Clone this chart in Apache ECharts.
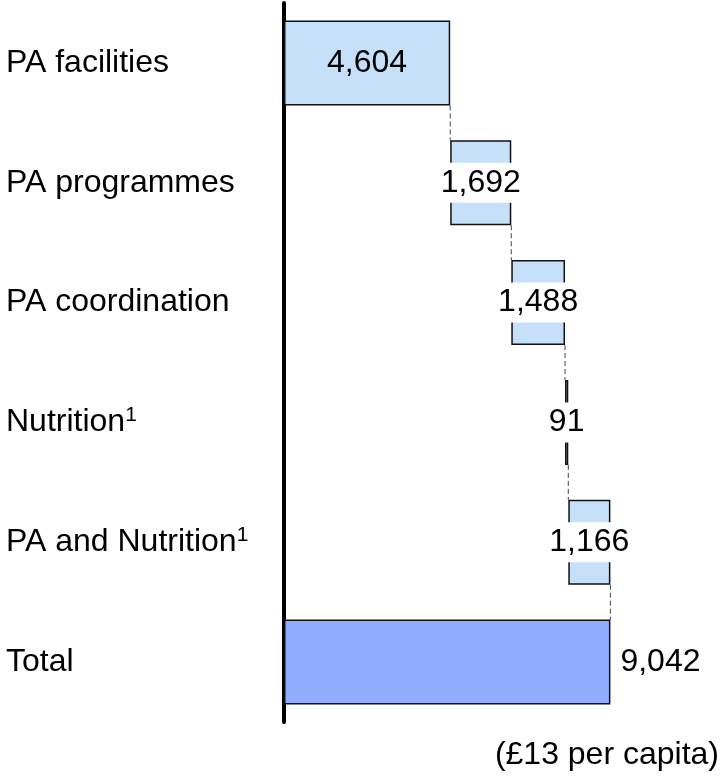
<!DOCTYPE html>
<html>
<head>
<meta charset="utf-8">
<script src="https://cdn.jsdelivr.net/npm/echarts@6/dist/echarts.min.js"></script>
<style>
html,body{margin:0;padding:0;background:#fff;}
#c{width:723px;height:776px;}
</style>
</head>
<body>
<div id="c"></div>
<script>
const categories = ['PA facilities', 'PA programmes', 'PA coordination', 'Nutrition', 'PA and Nutrition', 'Total'];
const superscripts = ['', '', '', '1', '1', ''];
const values = [4604, 1692, 1488, 91, 1166, 9042];
const footnote = '(£13 per capita)';

const FONT = 'Liberation Sans, Arial, sans-serif';
const BAR_H = 85;
const last = values.length - 1;

// waterfall offsets derived from the values
const base = [];
let run = 0;
values.forEach((v, i) => {
  if (i === last) { base.push(0); } else { base.push(run); run += v; }
});
const connectors = [];
for (let i = 0; i < last; i++) connectors.push([base[i] + values[i], i]);

const fmt = v => v.toLocaleString('en-GB');

const valueData = values.map((v, i) => {
  const item = {
    value: v,
    itemStyle: { color: i === last ? '#91AEFE' : '#C6E0FA' }
  };
  if (i === 0) {
    item.label = { backgroundColor: 'transparent' };
  } else if (i === last) {
    item.label = { position: 'right', distance: 10, backgroundColor: 'transparent' };
  }
  return item;
});

const chart = echarts.init(document.getElementById('c'), null, { renderer: 'canvas' });
chart.setOption({
  animation: false,
  grid: { left: 284, top: 3, bottom: 54, right: 78 },
  xAxis: { type: 'value', min: 0, max: 10000, show: false, splitLine: { show: false } },
  yAxis: {
    type: 'category',
    inverse: true,
    data: categories,
    axisLine: { show: true, lineStyle: { color: '#000', width: 4, cap: 'round' } },
    axisTick: { show: false },
    axisLabel: {
      align: 'left',
      margin: 278,
      color: '#000',
      fontFamily: FONT,
      fontSize: 32,
      formatter: (val, idx) => superscripts[idx] ? val + '{sup|' + superscripts[idx] + '}' : val,
      rich: {
        sup: { fontSize: 21, fontFamily: FONT, color: '#000', verticalAlign: 'top', padding: [0, 0, 14, 0] }
      }
    }
  },
  series: [
    {
      type: 'custom',
      data: connectors,
      z: 1,
      silent: true,
      renderItem: (params, api) => {
        const x = api.value(0), i = api.value(1);
        const p1 = api.coord([x, i]);
        const p2 = api.coord([x, i + 1]);
        return {
          type: 'line',
          shape: { x1: p1[0], y1: p1[1] + BAR_H / 2, x2: p2[0], y2: p2[1] - BAR_H / 2 },
          style: { stroke: '#444', lineWidth: 1, lineDash: [5, 3] }
        };
      }
    },
    {
      type: 'bar',
      stack: 'w',
      data: base,
      barWidth: BAR_H,
      itemStyle: { color: 'transparent', borderWidth: 0 },
      silent: true,
      z: 2
    },
    {
      type: 'bar',
      stack: 'w',
      data: valueData,
      barWidth: BAR_H,
      z: 3,
      itemStyle: { borderColor: '#111', borderWidth: 1.5 },
      label: {
        show: true,
        position: 'inside',
        color: '#000',
        fontFamily: FONT,
        fontSize: 32,
        lineHeight: 34,
        backgroundColor: '#fff',
        padding: [3, 0],
        formatter: p => fmt(p.value)
      }
    }
  ],
  graphic: [{
    type: 'text',
    right: 4,
    top: 739,
    style: { text: footnote, font: '32px ' + FONT, fill: '#000' }
  }]
});
</script>
</body>
</html>
